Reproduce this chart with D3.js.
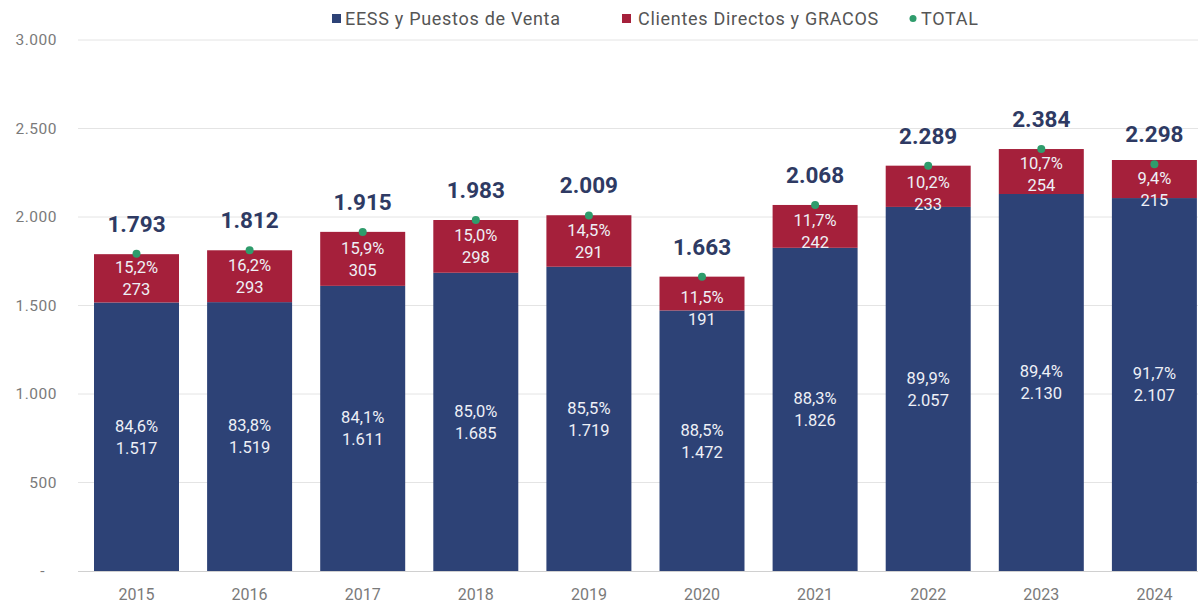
<!DOCTYPE html>
<html>
<head>
<meta charset="utf-8">
<script src="https://cdn.jsdelivr.net/npm/d3@7"></script>
<style>
  html, body { margin: 0; padding: 0; background: #ffffff; }
  svg { display: block; font-family: Roboto, "Noto Sans", sans-serif; }
</style>
</head>
<body>
<svg id="chart" width="1198" height="606"></svg>
<script>
// ---- Data ----
const years = ["2015","2016","2017","2018","2019","2020","2021","2022","2023","2024"];
const eess = [1517, 1519, 1611, 1685, 1719, 1472, 1826, 2057, 2130, 2107];
const clientes = [273, 293, 305, 298, 291, 191, 242, 233, 254, 215];
const totals = [1793, 1812, 1915, 1983, 2009, 1663, 2068, 2289, 2384, 2298];
const pctEess = ["84,6%","83,8%","84,1%","85,0%","85,5%","88,5%","88,3%","89,9%","89,4%","91,7%"];
const pctClientes = ["15,2%","16,2%","15,9%","15,0%","14,5%","11,5%","11,7%","10,2%","10,7%","9,4%"];
const yTicks = [0, 500, 1000, 1500, 2000, 2500, 3000];
const seriesNames = ["EESS y Puestos de Venta", "Clientes Directos y GRACOS", "TOTAL"];

// ---- Styles ----
const colBlue = "#2d4276";
const colRed = "#a5203b";
const colGreen = "#2f9c6c";
const colTotalText = "#2e3a63";
const colAxisText = "#7a7a7a";

const es = d3.formatLocale({decimal: ",", thousands: ".", grouping: [3], currency: ["", "€"]});
const fmt = es.format(",d");

const svg = d3.select("#chart");

const x = d3.scaleBand().domain(years).range([65.9, 1225]).paddingInner(0.2485).paddingOuter(0.2485);
const y = d3.scaleLinear().domain([0, 3000]).range([571, 40]);

// gridlines
svg.append("g").selectAll("line").data(yTicks.filter(d => d > 0)).join("line")
  .attr("x1", 78).attr("x2", 1198)
  .attr("y1", d => y(d)).attr("y2", d => y(d))
  .attr("stroke", "#e4e4e4").attr("stroke-width", 1);

// y axis labels
svg.append("g").selectAll("text").data(yTicks).join("text")
  .attr("x", d => d === 0 ? 45 : 57)
  .attr("y", d => y(d))
  .attr("dy", "0.35em")
  .attr("text-anchor", "end")
  .attr("fill", colAxisText)
  .style("font-size", "15.5px")
  .style("letter-spacing", "0.5px")
  .text(d => d === 0 ? "-" : fmt(d));

const data = years.map((yr, i) => ({yr, e: eess[i], c: clientes[i], t: totals[i], pe: pctEess[i], pc: pctClientes[i]}));

// bars
const g = svg.append("g");
g.selectAll("rect.e").data(data).join("rect").attr("class", "e")
  .attr("x", d => x(d.yr)).attr("width", x.bandwidth())
  .attr("y", d => y(d.e)).attr("height", d => y(0) - y(d.e))
  .attr("fill", colBlue);
g.selectAll("rect.c").data(data).join("rect").attr("class", "c")
  .attr("x", d => x(d.yr)).attr("width", x.bandwidth())
  .attr("y", d => y(d.e + d.c)).attr("height", d => y(d.e) - y(d.e + d.c))
  .attr("fill", colRed);

// x axis line
svg.append("line").attr("x1", 78).attr("x2", 1198).attr("y1", y(0) + 0.5).attr("y2", y(0) + 0.5)
  .attr("stroke", "#d0d0d0").attr("stroke-width", 1);

// x labels
svg.append("g").selectAll("text").data(years).join("text")
  .attr("x", d => x(d) + x.bandwidth() / 2)
  .attr("y", 594).attr("dy", "0.35em")
  .attr("text-anchor", "middle")
  .attr("fill", colAxisText)
  .style("font-size", "16px")
  .text(d => d);

// inner labels
const innerStyle = sel => sel.attr("text-anchor", "middle").attr("fill", "#eef0f6")
  .style("font-size", "16.5px").attr("dy", "0.35em");
data.forEach(d => {
  const cx = x(d.yr) + x.bandwidth() / 2;
  const bc = (y(0) + y(d.e)) / 2;
  g.append("text").call(innerStyle).attr("x", cx).attr("y", bc - 11).text(d.pe);
  g.append("text").call(innerStyle).attr("x", cx).attr("y", bc + 11).text(fmt(d.e));
  const top = y(d.e + d.c), bot = y(d.e);
  const segH = bot - top;
  const rc = (top + bot) / 2 + Math.max(0, 48 - segH);
  g.append("text").call(innerStyle).attr("x", cx).attr("y", rc - 11).text(d.pc);
  g.append("text").call(innerStyle).attr("x", cx).attr("y", rc + 11).text(fmt(d.c));
});

// total dots
g.selectAll("circle.t").data(data).join("circle").attr("class", "t")
  .attr("cx", d => x(d.yr) + x.bandwidth() / 2)
  .attr("cy", d => y(d.t))
  .attr("r", 4)
  .attr("fill", colGreen);

// total labels
g.selectAll("text.t").data(data).join("text").attr("class", "t")
  .attr("x", d => x(d.yr) + x.bandwidth() / 2)
  .attr("y", d => y(d.t) - 30)
  .attr("dy", "0.35em")
  .attr("text-anchor", "middle")
  .attr("fill", colTotalText)
  .style("font-size", "22.5px")
  .style("font-weight", "700")
  .text(d => fmt(d.t));

// legend
const leg = svg.append("g").style("font-size", "18px").style("letter-spacing", "0.7px").attr("fill", "#555");
const legItems = [
  {name: seriesNames[0], color: colBlue, shape: "rect", mx: 332, tx: 345},
  {name: seriesNames[1], color: colRed, shape: "rect", mx: 622, tx: 638},
  {name: seriesNames[2], color: colGreen, shape: "circle", mx: 913, tx: 921}
];
legItems.forEach(it => {
  if (it.shape === "rect") {
    leg.append("rect").attr("x", it.mx).attr("y", 14).attr("width", 9).attr("height", 9).attr("fill", it.color);
  } else {
    leg.append("circle").attr("cx", it.mx).attr("cy", 18.5).attr("r", 3.5).attr("fill", it.color);
  }
  leg.append("text").attr("x", it.tx).attr("y", 18.5).attr("dy", "0.35em").text(it.name);
});
</script>
</body>
</html>
